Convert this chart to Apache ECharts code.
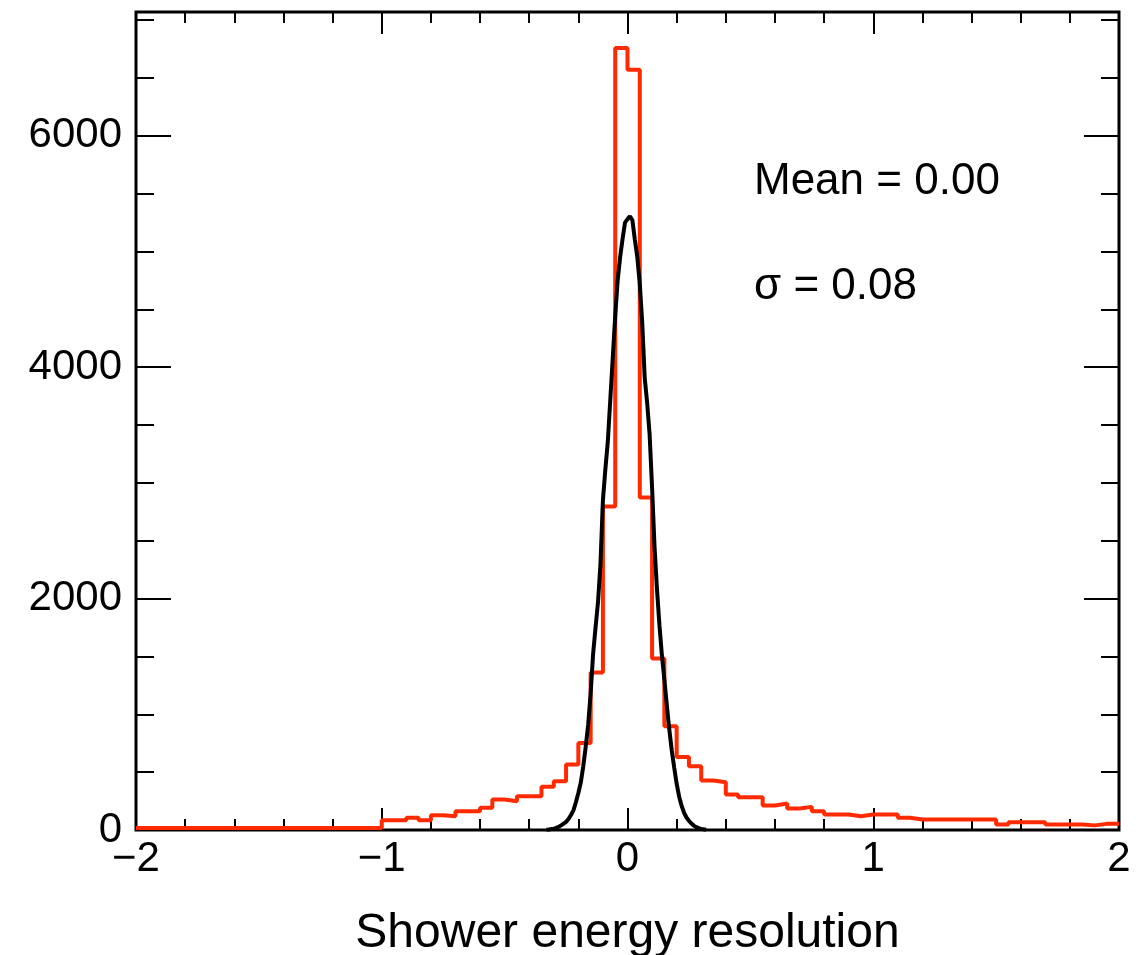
<!DOCTYPE html>
<html>
<head>
<meta charset="utf-8">
<script src="https://cdn.jsdelivr.net/npm/echarts@6/dist/echarts.min.js"></script>
<style>
  html, body { margin: 0; padding: 0; background: #fff; }
  #chart { width: 1141px; height: 955px; }
</style>
</head>
<body>
<div id="chart"></div>
<script>
// red histogram: 80 bins of 0.05 from -2 to 2
const binStart = -2
const binWidth = 0.05
const redCounts = [
  18, 18, 18, 18, 18, 18, 18, 18, 18, 18,
  18, 18, 18, 18, 18, 18, 18, 18, 18, 18,
  85, 85, 105, 85, 128, 119, 162, 162, 192, 263,
  249, 292, 292, 373, 422, 566, 753, 1361, 2797, 6758,
  6570, 2873, 1482, 897, 632, 551, 428, 413, 307, 283,
  283, 212, 229, 186, 200, 162, 134, 134, 119, 134,
  134, 134, 105, 91, 91, 91, 91, 91, 91, 91,
  48, 67, 67, 67, 48, 48, 48, 40, 53, 53
]

// black fit curve, sampled every 0.01 from -0.33
const fitStart = -0.33
const fitStep = 0.01
const fitValues = [
  3, 5, 8, 12, 18, 28, 40, 55, 70, 95,
  130, 170, 240, 320, 410, 551, 720, 910, 1180, 1520,
  1750, 1970, 2300, 2850, 3120, 3360, 3720, 4080, 4440, 4750,
  4950, 5110, 5250, 5280, 5305, 5270, 5100, 4950, 4720, 4380,
  3910, 3690, 3420, 2960, 2450, 2080, 1770, 1510, 1300, 1080,
  870, 690, 540, 400, 290, 210, 150, 108, 80, 56,
  38, 25, 16, 10, 6, 3
]

const statLines = ['Mean = 0.00', 'σ = 0.08']

const font = 'Liberation Sans'

let redData = redCounts.map((v, i) => [binStart + i * binWidth, v])
redData.push([binStart + redCounts.length * binWidth, redCounts[redCounts.length - 1]])
let fitData = fitValues.map((v, i) => [fitStart + i * fitStep, v])

function xAxisOf(position, interval, len, withLabel) {
  return {
    type: 'value',
    position: position,
    min: -2,
    max: 2,
    interval: interval,
    axisLine: { show: false, onZero: false },
    axisTick: { show: true, inside: true, length: len, lineStyle: { color: '#000', width: 2 } },
    splitLine: { show: false },
    axisLabel: withLabel ? {
      show: true,
      margin: 8,
      color: '#000',
      fontFamily: font,
      fontSize: 42,
      formatter: v => (v < 0 ? '\u2212' + Math.abs(v) : String(v))
    } : { show: false }
  }
}

function yAxisOf(position, interval, len, withLabel) {
  return {
    type: 'value',
    position: position,
    min: 0,
    max: 7070,
    interval: interval,
    axisLine: { show: false, onZero: false },
    axisTick: { show: true, inside: true, length: len, lineStyle: { color: '#000', width: 2 } },
    splitLine: { show: false },
    axisLabel: withLabel ? {
      show: true,
      margin: 14,
      color: '#000',
      fontFamily: font,
      fontSize: 42,
      showMaxLabel: false,
      formatter: v => String(v)
    } : { show: false }
  }
}

let xMain = xAxisOf('bottom', 1, 22, true)
xMain.name = 'Shower energy resolution'
xMain.nameLocation = 'middle'
xMain.nameGap = 80
xMain.nameTextStyle = { color: '#000', fontFamily: font, fontSize: 48 }

let chart = echarts.init(document.getElementById('chart'))
chart.setOption({
  animation: false,
  backgroundColor: '#fff',
  grid: {
    left: 136,
    right: 22,
    top: 12,
    bottom: 125,
    outerBoundsMode: 'none',
    containLabel: false,
    show: true,
    borderColor: '#000',
    borderWidth: 3,
    backgroundColor: 'transparent'
  },
  xAxis: [
    xMain,
    xAxisOf('bottom', 0.2, 11, false),
    xAxisOf('top', 1, 22, false),
    xAxisOf('top', 0.2, 11, false)
  ],
  yAxis: [
    yAxisOf('left', 2000, 35, true),
    yAxisOf('left', 500, 18, false),
    yAxisOf('right', 2000, 35, false),
    yAxisOf('right', 500, 18, false)
  ],
  graphic: statLines.map((t, i) => ({
    type: 'text',
    left: 754,
    top: 160 + i * 105,
    style: { text: t, fill: '#000', font: '44px "' + font + '"' }
  })),
  series: [
    {
      type: 'line',
      name: 'hist',
      step: 'end',
      data: redData,
      symbol: 'none',
      lineStyle: { color: '#ff2a00', width: 4 },
      z: 3
    },
    {
      type: 'line',
      name: 'fit',
      data: fitData,
      symbol: 'none',
      lineStyle: { color: '#000', width: 4 },
      z: 4
    }
  ]
})
</script>
</body>
</html>
